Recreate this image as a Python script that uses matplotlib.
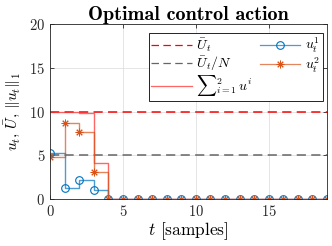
import numpy as np
import matplotlib.pyplot as plt

# =========================
# DATA
# =========================
t = np.arange(0, 20)
u1 = [5.25, 1.25, 2.15, 1.0] + [0.0] * 16
u2 = [4.75, 8.7, 7.7, 3.1] + [0.0] * 16
U_bar = 10.0
N = 2

u_sum = np.array(u1) + np.array(u2)

# =========================
# STYLE
# =========================
plt.rcParams['font.family'] = 'cmr10'
plt.rcParams['mathtext.fontset'] = 'cm'
plt.rcParams['axes.formatter.use_mathtext'] = True
plt.rcParams['axes.unicode_minus'] = False

blue = (0.0, 0.447, 0.741)
orange = (0.85, 0.325, 0.098)

fig = plt.figure(figsize=(3.32, 2.46), dpi=100)
ax = fig.add_axes([0.151, 0.191, 0.834, 0.711])

# reference lines
ax.axhline(U_bar, color='red', lw=1.1, dashes=(6, 3.5), label=r'$\bar{U}_t$')
ax.axhline(U_bar / N, color=(0.4, 0.4, 0.4), lw=1.1, dashes=(6, 3.5),
           label=r'$\bar{U}_t/N$')

# sum of inputs
ax.step(t, u_sum, where='post', color=(1.0, 0.2, 0.2, 0.75), lw=1.0,
        label=r'${\sum}_{i=1}^{2}\, u^i$')

# individual inputs
ax.step(t, u1, where='post', color=blue + (0.7,), lw=1.0, marker='o', ms=5.5,
        mfc='none', mec=blue, mew=0.8, label=r'$u_t^1$')
ax.step(t, u2, where='post', color=orange + (0.7,), lw=1.0, marker=(8, 2, 0),
        ms=5.5, mec=orange, mew=0.7, label=r'$u_t^2$')

# =========================
# AXES
# =========================
ax.set_xlim(0, 19)
ax.set_ylim(0, 20)
ax.set_xticks([0, 5, 10, 15])
ax.set_yticks([0, 5, 10, 15, 20])
ax.tick_params(direction='in', top=True, right=True, labelsize=10.5,
               length=3, width=0.6, colors=(0.15, 0.15, 0.15))
for s in ax.spines.values():
    s.set_color((0.15, 0.15, 0.15))
    s.set_linewidth(0.6)
ax.grid(True, color=(0.88, 0.88, 0.88), lw=0.6)
ax.set_axisbelow(True)

ax.set_title('Optimal control action', fontfamily='cmb10', fontsize=14.5,
             pad=3)
ax.set_xlabel(r'$t$ [samples]', fontsize=12.5, labelpad=1)
ax.set_ylabel(r'$u_t$, $\bar{U}$, $\|u_t\|_1$', fontsize=11, labelpad=5)

leg = ax.legend(ncol=2, loc='upper right', bbox_to_anchor=(0.985, 0.949),
                borderaxespad=0, fontsize=10, fancybox=False, framealpha=1,
                edgecolor='black', handlelength=2.9, columnspacing=0.5,
                labelspacing=0.05, borderpad=0.2, handletextpad=0.35)
leg.get_frame().set_linewidth(0.6)
for h in leg.get_lines():
    h.set_linewidth(0.9)

plt.savefig('out.png', dpi=100)
